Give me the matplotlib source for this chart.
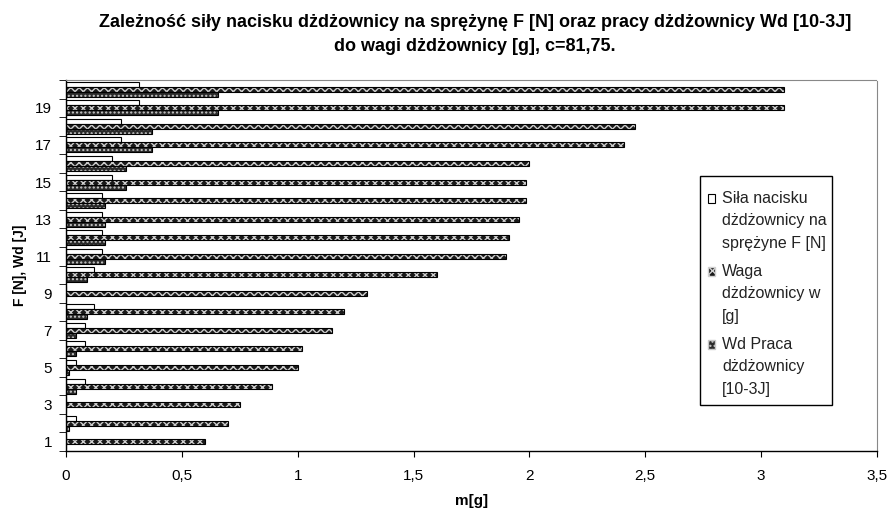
import matplotlib
matplotlib.use("Agg")
import matplotlib.pyplot as plt
import numpy as np
from matplotlib.patches import Patch, Rectangle
from matplotlib.legend_handler import HandlerPatch

categories = list(range(1, 21))
sila_F = [0, 0.043, 0, 0.083, 0.043, 0.083, 0.083, 0.12, 0, 0.12,
          0.157, 0.157, 0.157, 0.157, 0.2, 0.2, 0.236, 0.236, 0.315, 0.315]
waga = [0.60, 0.70, 0.75, 0.89, 1.00, 1.02, 1.15, 1.20, 1.30, 1.60,
        1.90, 1.91, 1.955, 1.985, 1.985, 2.0, 2.41, 2.456, 3.1, 3.1]
wd_praca = [0, 0.013, 0, 0.045, 0.013, 0.045, 0.045, 0.09, 0, 0.09,
            0.168, 0.168, 0.168, 0.168, 0.26, 0.26, 0.37, 0.37, 0.657, 0.657]
xticks = [0, 0.5, 1, 1.5, 2, 2.5, 3, 3.5]
xticklabels = ["0", "0,5", "1", "1,5", "2", "2,5", "3", "3,5"]
labels = ["Siła nacisku\ndżdżownicy na\nsprężyne F [N]",
          "Waga\ndżdżownicy w\n[g]",
          "Wd Praca\ndżdżownicy\n[10-3J]"]

plt.rcParams['font.family'] = ['Liberation Sans', 'DejaVu Sans']

W, H = 891, 515
fig = plt.figure(figsize=(W / 100, H / 100), dpi=100)
ax = fig.add_axes([66/W, (H-451)/H, (877-66)/W, (451-80)/H])

y = np.array(categories, dtype=float)
h = 0.27

ax.barh(y + h, sila_F, height=h, color='white', edgecolor='black',
        linewidth=0.8)
ax.barh(y, waga, height=h, color='#1a1a1a', edgecolor='#d0d0d0',
        hatch='xxxx', linewidth=0)
ax.barh(y, waga, height=h, fill=False, edgecolor='black', linewidth=0.8)
ax.barh(y - h, wd_praca, height=h, color='#2a2a2a', edgecolor='#c8c8c8',
        hatch='....', linewidth=0)
ax.barh(y - h, wd_praca, height=h, fill=False, edgecolor='black',
        linewidth=0.8)

LEG_FS = 11.5
LEG_LS = 1.6


def top_patch(legend, orig_handle, xdescent, ydescent, width, height, fontsize):
    off = 1.42 * fontsize
    return Rectangle((-xdescent, -ydescent + off), width, height)


handles = [Patch(facecolor='white', edgecolor='black', linewidth=0.8),
           Patch(facecolor='#1a1a1a', edgecolor='#d0d0d0', hatch='xxxx'),
           Patch(facecolor='#2a2a2a', edgecolor='#c8c8c8', hatch='....')]
leg = ax.legend(handles, labels, loc='upper left',
                bbox_to_anchor=((697-66)/(877-66), (451-180)/(451-80)),
                fontsize=LEG_FS, frameon=False,
                handlelength=0.45, handleheight=0.45, handletextpad=0.42,
                labelspacing=0.85, borderpad=0.7, borderaxespad=0,
                handler_map={Patch: HandlerPatch(patch_func=top_patch)})
for t in leg.get_texts():
    t.set_color('#222222')
    t.set_linespacing(LEG_LS)

# legend frame box
fig.add_artist(Rectangle((700/W, (H-405)/H), 132/W, 229/H,
                         transform=fig.transFigure, fill=False,
                         edgecolor='black', linewidth=1.0))

ax.set_xlim(0, 3.5)
ax.set_ylim(0.5, 20.5)
ax.set_xticks(xticks)
ax.set_xticklabels(xticklabels, fontsize=11)
ax.set_yticks([c for c in categories if c % 2 == 1])
ax.set_yticklabels([str(c) for c in categories if c % 2 == 1], fontsize=11)
ax.set_yticks(np.arange(0.5, 20.6, 1), minor=True)
ax.tick_params(axis='y', which='major', length=0, pad=10)
ax.tick_params(axis='y', which='minor', length=5, direction='out')
ax.tick_params(axis='x', which='major', length=4, direction='out', pad=9)

for s in ['top', 'right']:
    ax.spines[s].set_linestyle((0, (1, 1)))
    ax.spines[s].set_color('#888888')
    ax.spines[s].set_linewidth(0.8)
for s in ['left', 'bottom']:
    ax.spines[s].set_color('black')
    ax.spines[s].set_linewidth(1.0)

ax.set_xlabel("m[g]", fontsize=11, fontweight='bold', labelpad=8)
ax.set_ylabel("F [N], Wd [J]", fontsize=10, fontweight='bold', labelpad=6)

fig.text(0.533, 0.972, "Zależność siły nacisku dżdżownicy na sprężynę F [N] oraz pracy dżdżownicy Wd [10-3J]\ndo wagi dżdżownicy [g], c=81,75.",
         ha='center', va='top', fontsize=13, fontweight='bold',
         linespacing=1.5)

fig.savefig("out.png", dpi=100)
